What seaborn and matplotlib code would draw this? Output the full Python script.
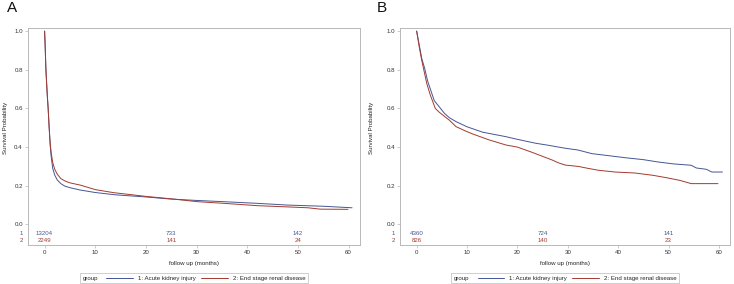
import matplotlib
matplotlib.use('Agg')
import matplotlib.pyplot as plt
from matplotlib.lines import Line2D
from matplotlib.offsetbox import HPacker
import seaborn as sns
import pandas as pd

# panel A: all patients (months, survival probability)
a_aki_t = [0, 0.1, 0.26, 0.5, 0.7, 0.9, 1.1, 1.3, 1.6, 2.0, 2.5, 3.2, 4, 5, 7, 10, 14, 20, 25, 30, 35, 42, 48, 55, 60.7]
a_aki_s = [1.0, 0.93, 0.8, 0.68, 0.6, 0.5, 0.41, 0.35, 0.29, 0.255, 0.23, 0.211, 0.198, 0.19, 0.178, 0.165,
           0.153, 0.142, 0.131, 0.124, 0.118, 0.109, 0.100, 0.094, 0.086]
a_esrd_t = [0, 0.1, 0.26, 0.5, 0.7, 0.9, 1.1, 1.3, 1.6, 2.0, 2.5, 3.2, 4, 5, 7.1, 10, 13.7, 20, 25.5, 30, 35.4,
            42, 48.5, 52, 54.4, 59.9]
a_esrd_s = [1.0, 0.93, 0.8, 0.68, 0.6, 0.5, 0.42, 0.37, 0.32, 0.285, 0.26, 0.237, 0.225, 0.215, 0.203, 0.18,
            0.164, 0.145, 0.131, 0.118, 0.109, 0.097, 0.09, 0.086, 0.079, 0.078]

# panel B
b_aki_t = [0, 0.5, 1.0, 1.6, 2.2, 2.9, 3.5, 4.5, 5.5, 6.5, 7.8, 10, 13.1, 17.7, 20, 23.6, 26, 29.5, 32, 34.8,
           38, 41.4, 45, 47.9, 51, 54.5, 55.5, 57.5, 58.6, 60.7]
b_aki_s = [1.0, 0.93, 0.86, 0.806, 0.74, 0.686, 0.64, 0.608, 0.575, 0.552, 0.532, 0.505, 0.477, 0.454, 0.44,
           0.42, 0.41, 0.394, 0.385, 0.366, 0.356, 0.345, 0.335, 0.323, 0.313, 0.306, 0.292, 0.285, 0.271, 0.271]
b_esrd_t = [0, 0.5, 1.0, 1.5, 2.0, 2.7, 3.7, 4.5, 6.5, 7.8, 9.8, 11.1, 14.4, 17.7, 20, 21.6, 23, 24.3, 26.9,
            28.2, 29.5, 32.1, 34, 36.1, 39.4, 43.3, 46.9, 49.5, 52.2, 54.5, 59.8]
b_esrd_s = [1.0, 0.92, 0.85, 0.79, 0.73, 0.67, 0.60, 0.58, 0.539, 0.506, 0.482, 0.468, 0.437, 0.411, 0.40,
            0.385, 0.372, 0.359, 0.333, 0.318, 0.307, 0.30, 0.29, 0.28, 0.271, 0.266, 0.254, 0.242, 0.228,
            0.211, 0.211]

risk_times = [0, 25, 50]
a_risk_aki = ['13204', '733', '142']
a_risk_esrd = ['2249', '141', '24']
b_risk_aki = ['4360', '724', '141']
b_risk_esrd = ['826', '140', '23']

groups = ['1: Acute kidney injury', '2: End stage renal disease']
palette = {groups[0]: '#445694', groups[1]: '#A23A2E'}

sns.set_style('white')
plt.rcParams['font.family'] = ['Liberation Sans', 'DejaVu Sans']
FS = 4.4
GRAY = '#b8b8b8'


def long_df(t1, s1, t2, s2):
    d1 = pd.DataFrame({'t': t1, 's': s1, 'group': groups[0]})
    d2 = pd.DataFrame({'t': t2, 's': s2, 'group': groups[1]})
    return pd.concat([d1, d2], ignore_index=True)


def draw_panel(ax, df, risk1, risk2, ylab_x, row_x):
    sns.lineplot(data=df, x='t', y='s', hue='group', palette=palette, ax=ax,
                 estimator=None, sort=False, lw=0.7, legend=False)
    ax.set_xlim(-3.3, 62.2)
    ax.set_ylim(-0.107, 1.0155)
    ax.set_xticks(range(0, 61, 10))
    ax.set_yticks([0, 0.2, 0.4, 0.6, 0.8, 1.0])
    ax.set_yticklabels(['0.0', '0.2', '0.4', '0.6', '0.8', '1.0'])
    ax.tick_params(labelsize=FS, length=2.2, width=0.5, color=GRAY, pad=1.5, labelcolor='#333333',
                   bottom=True, left=True)
    for sp in ax.spines.values():
        sp.set_color(GRAY)
        sp.set_linewidth(0.7)
    ax.set_xlabel('follow up (months)', fontsize=FS, color='#222222')
    ax.xaxis.set_label_coords(0.5, -0.072)
    ax.set_ylabel('Survival Probability', fontsize=FS, color='#222222')
    ax.yaxis.set_label_coords(ylab_x, 0.541)
    tr = ax.get_yaxis_transform()
    for t, v in zip(risk_times, risk1):
        ax.text(t, -0.047, v, color=palette[groups[0]], fontsize=FS, ha='center', va='center')
    for t, v in zip(risk_times, risk2):
        ax.text(t, -0.083, v, color=palette[groups[1]], fontsize=FS, ha='center', va='center')
    ax.text(row_x, -0.047, '1', transform=tr, color=palette[groups[0]], fontsize=FS, ha='center', va='center')
    ax.text(row_x, -0.083, '2', transform=tr, color=palette[groups[1]], fontsize=FS, ha='center', va='center')

    handles = [Line2D([], [], color=palette[g], lw=0.7) for g in groups]
    leg = ax.legend(handles, groups, title='group', ncol=2, loc='upper center',
                    bbox_to_anchor=(0.5, -0.127), fontsize=FS, title_fontsize=FS, frameon=True,
                    fancybox=False, handlelength=4.4, handletextpad=0.8, columnspacing=0.8,
                    borderpad=0.45, borderaxespad=0)
    leg.get_frame().set_edgecolor(GRAY)
    leg.get_frame().set_linewidth(0.6)
    # put "group" on the same row as the entries
    box = leg._legend_box
    kids = box.get_children()
    hp = HPacker(pad=box.pad, sep=FS * 1.4, align='center', children=kids)
    hp.set_figure(ax.figure)
    hp.axes = ax
    leg._legend_box = hp
    hp.set_offset(leg._findoffset)
    return leg


fig = plt.figure(figsize=(7.34, 2.84), dpi=100)
ax_a = fig.add_axes([0.038, 0.137, 0.452, 0.764])
ax_b = fig.add_axes([0.545, 0.137, 0.4496, 0.764])

draw_panel(ax_a, long_df(a_aki_t, a_aki_s, a_esrd_t, a_esrd_s), a_risk_aki, a_risk_esrd, -0.06, -0.021)
draw_panel(ax_b, long_df(b_aki_t, b_aki_s, b_esrd_t, b_esrd_s), b_risk_aki, b_risk_esrd, -0.079, -0.019)

fig.text(12 / 734, 1 - 1 / 284, 'A', ha='center', va='top', fontsize=11, color='#111111')
fig.text(382 / 734, 1 - 1 / 284, 'B', ha='center', va='top', fontsize=11, color='#111111')

fig.savefig('out.png', dpi=100)
